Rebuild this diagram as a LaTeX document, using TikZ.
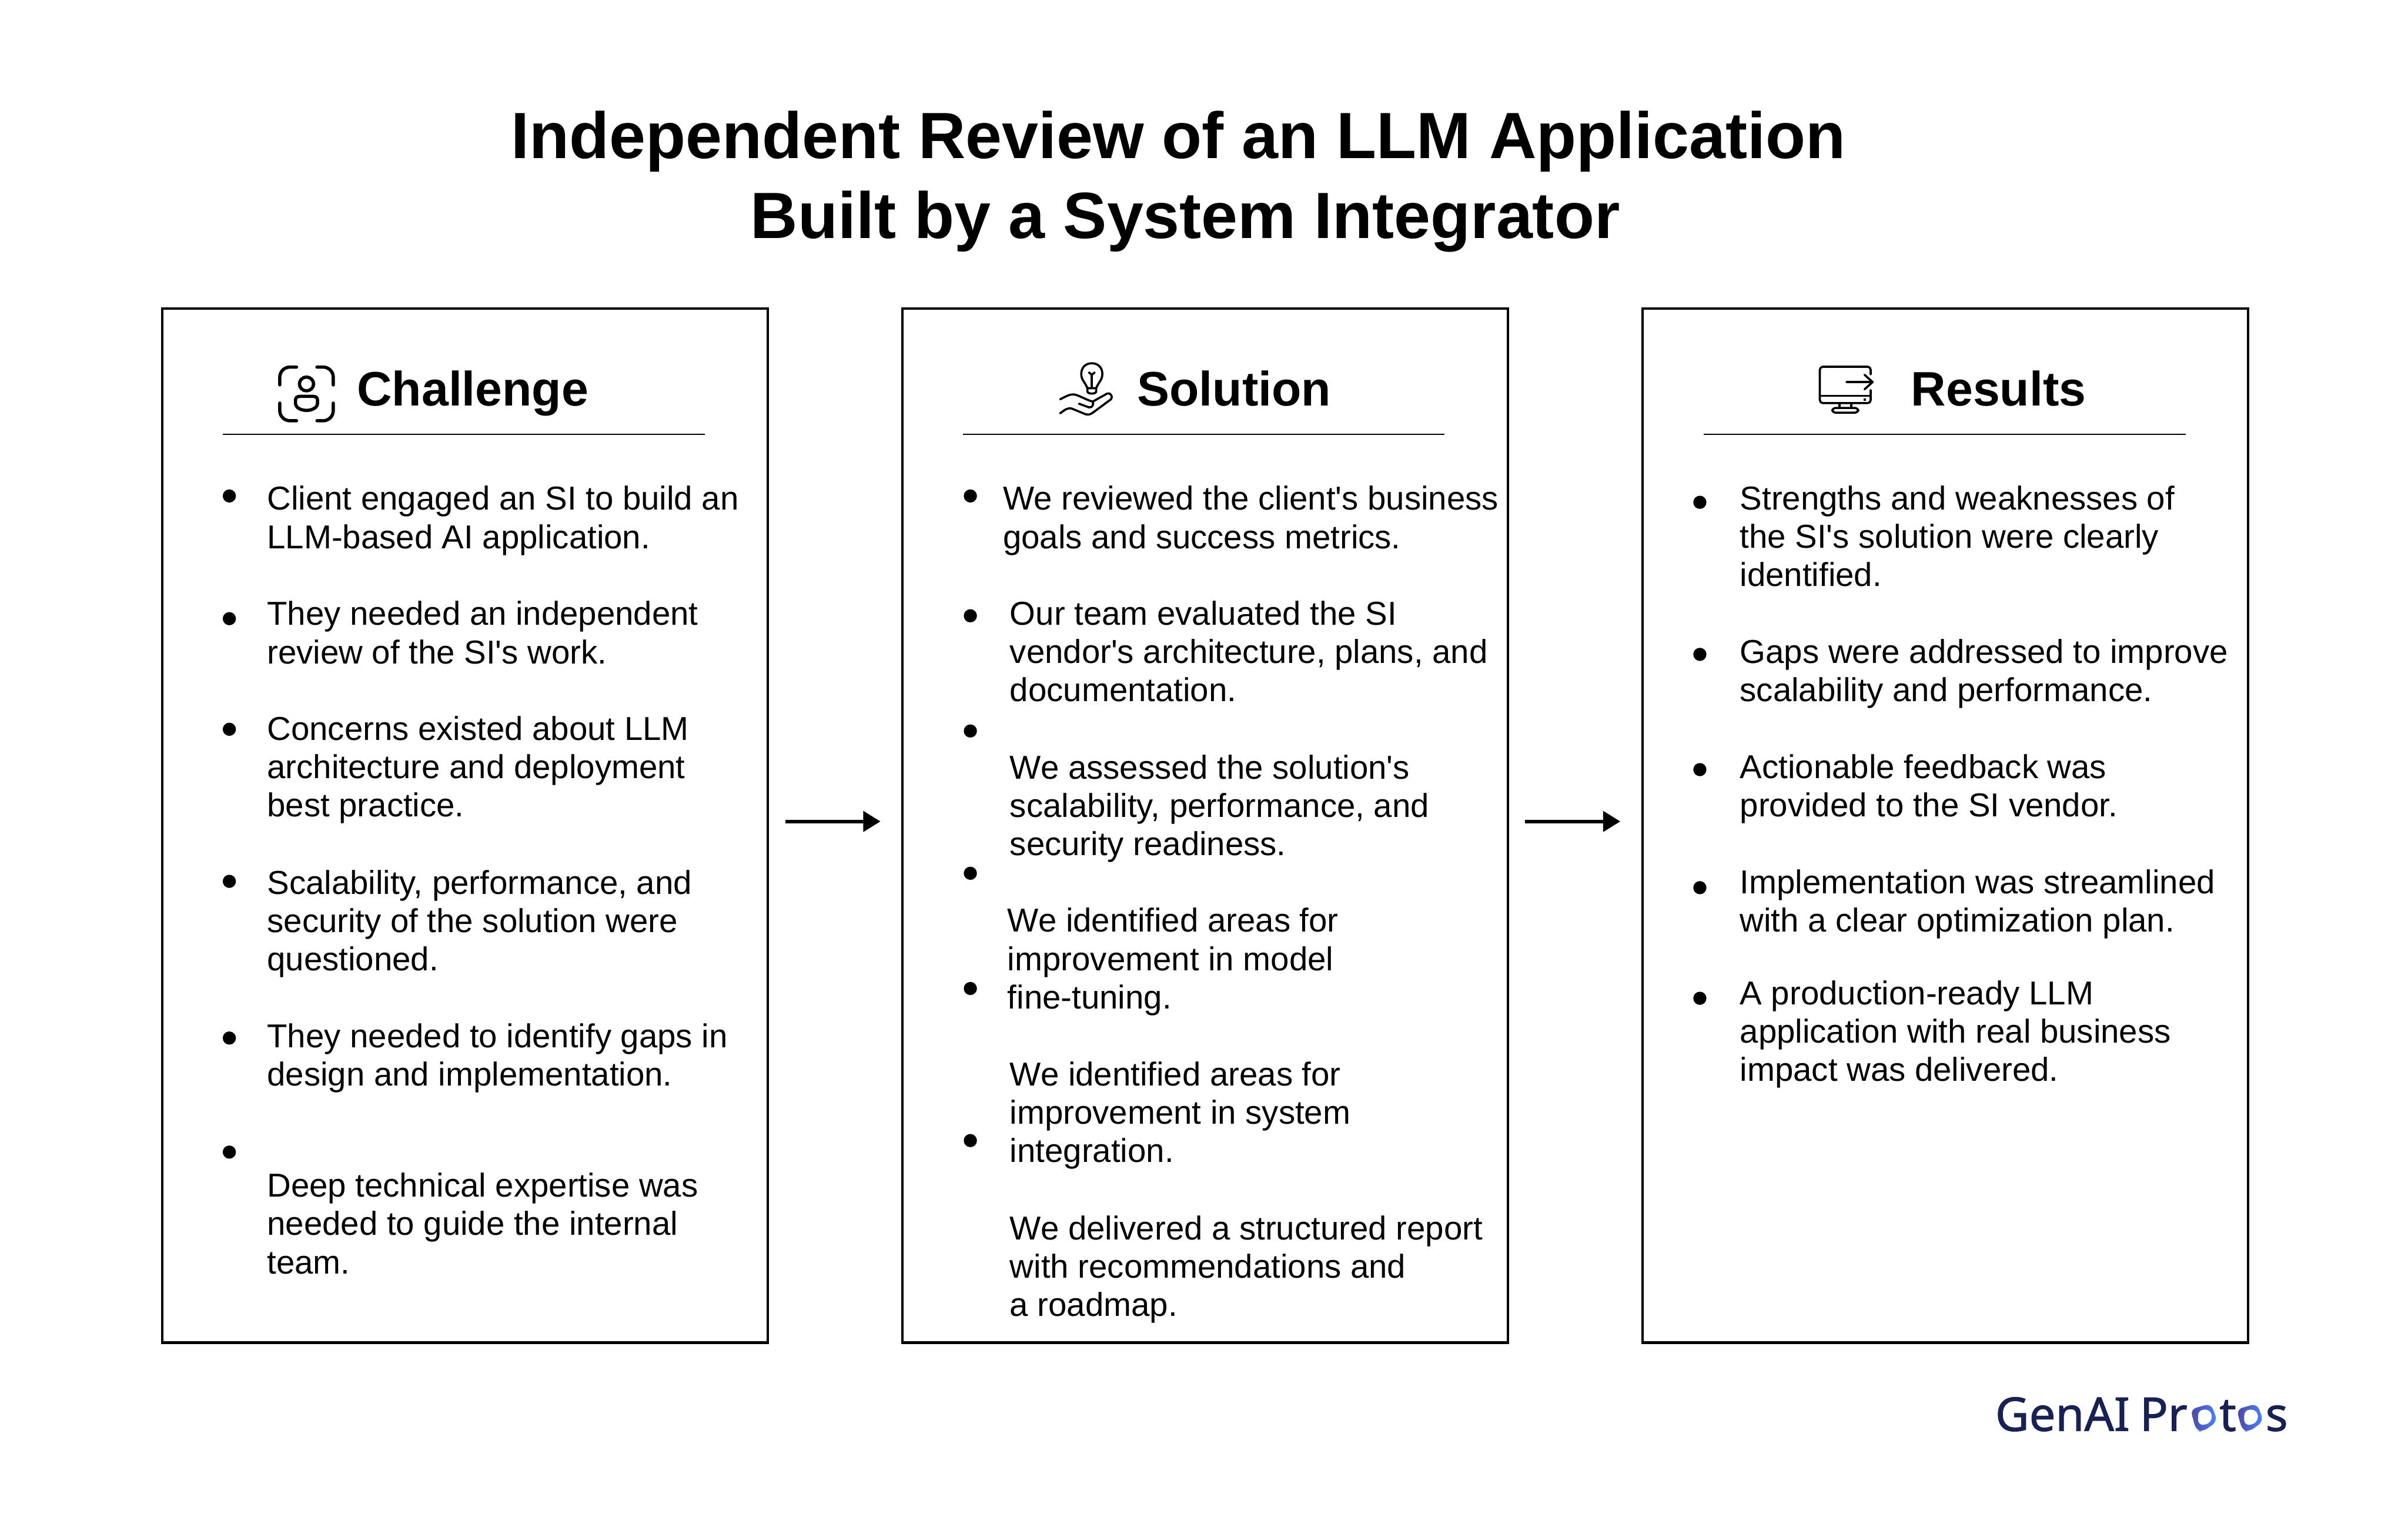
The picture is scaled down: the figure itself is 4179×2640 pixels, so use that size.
\documentclass[tikz,border=0pt]{standalone}
\usepackage{fontspec}
\setmainfont{Liberation Sans}
\newfontfamily\logofont[FakeBold=1.2]{Noto Sans}
\usetikzlibrary{arrows.meta}
\definecolor{logonavy}{HTML}{182154}
\definecolor{logopurple}{HTML}{5046A0}
\definecolor{logoblue}{HTML}{4585FF}
\newcommand{\qt}{\textquotesingle}
\tikzset{
  panel/.style={draw,line width=1.3pt,minimum width=10.505cm,minimum height=17.94cm,inner sep=0pt,anchor=north west},
  headline/.style={font=\fontsize{32.3}{39.5}\selectfont\bfseries,align=center,inner sep=0pt},
  headtext/.style={font=\fontsize{23.9}{28}\selectfont\bfseries,anchor=base west,inner sep=0pt},
  bodytext/.style={font=\fontsize{16.35}{18.9}\selectfont,anchor=base west,align=left,inner sep=0pt},
  bulletdot/.style={circle,fill,inner sep=0pt,minimum size=6.5pt},
  logotext/.style={font=\logofont\fontsize{23}{28}\selectfont,text=logonavy,anchor=base west,inner sep=0pt},
  iconline/.style={line width=1.05pt,line cap=round,line join=round}
}
\begin{document}
\begin{tikzpicture}[x=0.01cm,y=-0.01cm]
\useasboundingbox (0,0) rectangle (4179,2640);
\node[headline] (title) at (2045,315) {Independent Review of an LLM Application\\\hspace*{0.24cm}Built by a System Integrator};
% panels
\node[panel] (challengebox) at (279.2,533.2) {};
\node[panel] (solutionbox) at (1563.7,533.2) {};
\node[panel] (resultsbox) at (2848.2,533.2) {};
% arrows between panels
\coordinate (arrowa) at (1363,1426);
\coordinate (arrowb) at (1528,1426);
\coordinate (arrowc) at (2647,1426);
\coordinate (arrowd) at (2812,1426);
\draw[-{Triangle[length=8.5pt,width=10pt]},line width=1.7pt] (arrowa) -- (arrowb);
\draw[-{Triangle[length=8.5pt,width=10pt]},line width=1.7pt] (arrowc) -- (arrowd);
% head rules
\foreach \x in {387,1671,2957} {
\coordinate (rulea\x) at (\x,754);
\coordinate (ruleb\x) at (\x+836,754);
\draw[line width=0.6pt] (rulea\x) -- (ruleb\x);
}
\node[headtext] (challengehead) at (619,704) {Challenge};
\node[headtext] (solutionhead) at (1973,704) {Solution};
\node[headtext] (resultshead) at (3316,704) {Results};
% left column
\node[bodytext] (c1) at (463,952) {Client engaged an SI to build an\\LLM-based AI application.};
\node[bodytext] (c2) at (463,1152) {They needed an independent\\review of the SI\qt s work.};
\node[bodytext] (c3) at (463,1418) {Concerns existed about LLM\\architecture and deployment\\best practice.};
\node[bodytext] (c4) at (463,1685) {Scalability, performance, and\\security of the solution were\\questioned.};
\node[bodytext] (c5) at (463,1885) {They needed to identify gaps in\\design and implementation.};
\node[bodytext] (c6) at (463,2211) {Deep technical expertise was\\needed to guide the internal\\team.};
% middle column
\node[bodytext] (s1) at (1740,952) {We reviewed the client\qt s business\\goals and success metrics.};
\node[bodytext] (s2) at (1752,1218) {Our team evaluated the SI\\vendor\qt s architecture, plans, and\\documentation.};
\node[bodytext] (s3) at (1752,1485) {We assessed the solution\qt s\\scalability, performance, and\\security readiness.};
\node[bodytext] (s4) at (1748,1751) {We identified areas for\\improvement in model\\fine-tuning.};
\node[bodytext] (s5) at (1752,2018) {We identified areas for\\improvement in system\\integration.};
\node[bodytext] (s6) at (1752,2285) {We delivered a structured report\\with recommendations and\\a roadmap.};
% right column
\node[bodytext] (r1) at (3019,1018) {Strengths and weaknesses of\\the SI\qt s solution were clearly\\identified.};
\node[bodytext] (r2) at (3019,1218) {Gaps were addressed to improve\\scalability and performance.};
\node[bodytext] (r3) at (3019,1418) {Actionable feedback was\\provided to the SI vendor.};
\node[bodytext] (r4) at (3019,1618) {Implementation was streamlined\\with a clear optimization plan.};
\node[bodytext] (r5) at (3019,1877) {A production-ready LLM\\application with real business\\impact was delivered.};
% bullets
\foreach \x/\y [count=\i] in {398/861,398/1074,398/1266,398/1530,398/1802,398/2000,
  1684/861,1684/1069,1684/1269,1684/1516,1684/1716,1684/1980,
  2950/872,2950/1136,2950/1336,2950/1541,2950/1733} {
\node[bulletdot] (dot\i) at (\x,\y) {};
}
% challenge icon
\begin{scope}[shift={(400,580)},x=0.00455cm,y=-0.00333cm,line width=1.6pt,line cap=round,line join=round]
\draw[rounded corners=5pt] (188,265) -- (188,172) -- (252,172);
\draw[rounded corners=5pt] (330,172) -- (392,172) -- (392,265);
\draw[rounded corners=5pt] (188,360) -- (188,452) -- (252,452);
\draw[rounded corners=5pt] (330,452) -- (392,452) -- (392,360);
\draw (290,260) ellipse [x radius=27,y radius=36];
\draw (248,345) .. controls (248,330) and (255,325) .. (265,325) -- (315,325) .. controls (325,325) and (332,330) .. (332,345) -- (332,360) .. controls (332,385) and (310,398) .. (290,398) .. controls (270,398) and (248,385) .. (248,360) -- cycle;
\end{scope}
% solution icon
\begin{scope}[shift={(1750,600)},x=0.00333cm,y=-0.00333cm,iconline]
\draw (412,222) .. controls (400,190) and (380,180) .. (380,148) .. controls (380,112) and (405,92) .. (435,92) .. controls (465,92) and (490,112) .. (490,148) .. controls (490,180) and (470,190) .. (458,222) -- cycle;
\draw (412,222) -- (412,238) .. controls (412,248) and (425,250) .. (435,250) .. controls (445,250) and (458,248) .. (458,238) -- (458,222);
\draw (435,215) -- (435,152);
\draw (420,140) -- (435,152) -- (450,140);
\draw (270,280) .. controls (300,265) and (320,252) .. (345,255) .. controls (370,260) and (410,285) .. (440,292) -- (515,250) .. controls (530,243) and (548,265) .. (535,280) -- (440,350) .. controls (425,362) and (410,362) .. (395,355) -- (335,330) .. controls (310,320) and (295,335) .. (270,353);
\draw (368,303) -- (420,322) .. controls (440,325) and (445,305) .. (440,292);
\end{scope}
% results icon
\begin{scope}[shift={(3100,600)},x=0.00333cm,y=-0.00333cm,iconline]
\draw[rounded corners=1.5pt] (440,150) -- (440,110) -- (175,110) -- (175,300) -- (440,300) -- (440,232);
\draw (175,262) -- (440,262);
\fill (404,275) rectangle (416,287);
\draw (315,190) -- (450,190);
\draw (408,152) -- (450,190) -- (408,228);
\draw (278,300) -- (278,325);
\draw (338,300) -- (338,325);
\draw[rounded corners=1.5pt] (240,350) -- (240,325) -- (375,325) -- (375,350) -- cycle;
\end{scope}
% logo
\node[logotext] (logoa) at (3462,2484) {GenAI};
\node[logotext] (logod) at (3713,2484) {Pr};
\node[logotext] (logob) at (3851,2484) {t};
\node[logotext] (logoc) at (3931,2484) {s};
\foreach \x in {0,80} {
\begin{scope}[shift={(3420+\x,2380)},x=0.00383cm,y=-0.00333cm]
\shade[even odd rule,left color=logopurple,right color=logoblue,rounded corners=3pt] (995,200) -- (1088,170) -- (1118,262) -- (1050,318) -- (1022,312) -- cycle (1030,200) -- (1092,203) -- (1092,272) -- (1030,287) -- cycle;
\end{scope}
}
\end{tikzpicture}
\end{document}
